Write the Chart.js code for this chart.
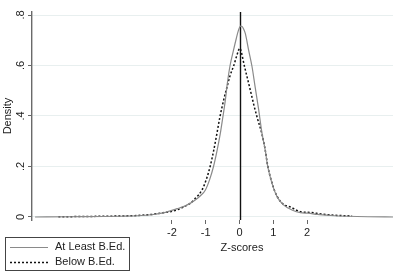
<!DOCTYPE html>
<html>
<head>
<meta charset="utf-8">
<script src="https://cdn.jsdelivr.net/npm/chart.js@4"></script>
<style>
html,body{margin:0;padding:0;background:#fff;}
#wrap{width:400px;height:275px;position:relative;}
</style>
</head>
<body>
<div id="wrap"><canvas id="c" width="400" height="275"></canvas></div>
<script>
// ---- data ----
const seriesNames = ["At Least B.Ed.", "Below B.Ed."];
const atLeastX = [-6.05,-5.0,-4.0,-3.5,-3.0,-2.6,-2.3,-2.05,-1.85,-1.66,-1.45,-1.31,-1.15,-1.01,-0.88,-0.77,-0.67,-0.57,-0.5,-0.42,-0.36,-0.28,-0.18,-0.1,-0.03,0.03,0.08,0.12,0.17,0.27,0.37,0.46,0.56,0.66,0.76,0.83,0.96,1.11,1.3,1.55,1.8,2.03,2.3,2.7,3.2,3.8,4.54];
const atLeastY = [0.000,0.001,0.002,0.003,0.005,0.009,0.015,0.024,0.033,0.041,0.055,0.067,0.085,0.107,0.15,0.2,0.26,0.33,0.39,0.463,0.53,0.60,0.66,0.705,0.74,0.756,0.754,0.745,0.727,0.66,0.595,0.516,0.43,0.335,0.265,0.203,0.133,0.08,0.048,0.028,0.017,0.015,0.01,0.006,0.003,0.001,0.000];
const belowX = [-5.36,-4.5,-4.0,-3.5,-3.0,-2.6,-2.4,-2.2,-2.05,-1.85,-1.65,-1.46,-1.3,-1.11,-0.98,-0.87,-0.77,-0.67,-0.59,-0.47,-0.38,-0.28,-0.17,-0.08,-0.03,0.0,0.03,0.14,0.25,0.35,0.43,0.53,0.66,0.76,0.83,0.96,1.11,1.3,1.5,1.8,2.1,2.4,2.8,3.33];
const belowY = [0.001,0.002,0.003,0.004,0.006,0.01,0.014,0.018,0.021,0.028,0.04,0.054,0.075,0.107,0.15,0.2,0.26,0.33,0.39,0.463,0.51,0.56,0.60,0.64,0.66,0.668,0.664,0.60,0.54,0.485,0.44,0.39,0.33,0.265,0.205,0.135,0.082,0.05,0.04,0.021,0.018,0.012,0.007,0.004];
const xTicks = [-2,-1,0,1,2];
const xTickLabels = ["-2","-1","0","1","2"];
const yTicks = [0,0.2,0.4,0.6,0.8];
const yTickLabels = ["0",".2",".4",".6",".8"];
const xTitle = "Z-scores";
const yTitle = "Density";
const refLineX = 0;

const FONT = "'Liberation Sans', Arial, sans-serif";
const toPts = (xs, ys) => xs.map((x, i) => ({x: x, y: ys[i]}));

const decor = {
  id: 'decor',
  beforeDatasetsDraw(chart) {
    const ctx = chart.ctx, a = chart.chartArea;
    const xs = chart.scales.x;
    const px = Math.round(xs.getPixelForValue(refLineX)) + 0.5;
    ctx.save();
    ctx.strokeStyle = '#111';
    ctx.lineWidth = 1.4;
    ctx.beginPath();
    ctx.moveTo(px, a.top);
    ctx.lineTo(px, a.bottom);
    ctx.stroke();
    ctx.restore();
  },
  afterDraw(chart) {
    const ctx = chart.ctx, a = chart.chartArea;
    const ys = chart.scales.y;
    ctx.save();
    ctx.fillStyle = '#222';
    ctx.font = '11px ' + FONT;
    ctx.textAlign = 'center';
    ctx.textBaseline = 'middle';
    // rotated y tick labels
    yTicks.forEach((v, i) => {
      const py = ys.getPixelForValue(v);
      ctx.save();
      ctx.translate(21, py);
      ctx.rotate(-Math.PI / 2);
      ctx.fillText(yTickLabels[i], 0, 0);
      ctx.restore();
    });
    // y title
    ctx.save();
    ctx.translate(8, (a.top + a.bottom) / 2);
    ctx.rotate(-Math.PI / 2);
    ctx.fillText(yTitle, 0, 0);
    ctx.restore();
    // x title
    ctx.fillText(xTitle, 242, 248);
    // legend
    ctx.strokeStyle = '#444';
    ctx.lineWidth = 1;
    ctx.strokeRect(5.5, 237.5, 124, 33);
    const ds = chart.data.datasets;
    const rows = [247, 262];
    ds.forEach((d, i) => {
      const y = rows[i] + 0.5;
      ctx.save();
      ctx.strokeStyle = d.borderColor;
      ctx.lineWidth = d.borderWidth;
      ctx.setLineDash(d.borderDash || []);
      ctx.beginPath();
      ctx.moveTo(10, y);
      ctx.lineTo(48, y);
      ctx.stroke();
      ctx.restore();
      ctx.textAlign = 'left';
      ctx.fillStyle = '#222';
      ctx.fillText(d.label, 55, rows[i]);
    });
    ctx.restore();
  }
};

new Chart(document.getElementById('c'), {
  type: 'line',
  data: {
    datasets: [
      {label: seriesNames[0], data: toPts(atLeastX, atLeastY), borderColor: '#8a8a8a', borderWidth: 1.2, pointRadius: 0, fill: false, cubicInterpolationMode: 'monotone'},
      {label: seriesNames[1], data: toPts(belowX, belowY), borderColor: '#111', borderWidth: 1.5, borderDash: [2, 2], pointRadius: 0, fill: false, cubicInterpolationMode: 'monotone'}
    ]
  },
  options: {
    responsive: false,
    animation: false,
    devicePixelRatio: 1,
    layout: {padding: {top: 12, right: 7, left: 0, bottom: 0}},
    plugins: {legend: {display: false}, tooltip: {enabled: false}},
    scales: {
      x: {
        type: 'linear',
        min: -6.14, max: 4.54,
        afterBuildTicks: s => { s.ticks = xTicks.map(v => ({value: v})); },
        afterFit: s => { s.height = 55; },
        grid: {drawOnChartArea: false, drawTicks: true, tickLength: 4, tickColor: '#666', tickWidth: 1},
        border: {display: false},
        ticks: {font: {size: 11, family: FONT}, color: '#222', padding: 2, maxRotation: 0,
                callback: (v) => { const i = xTicks.indexOf(v); return i >= 0 ? xTickLabels[i] : ''; }}
      },
      y: {
        type: 'linear',
        min: -0.0119, max: 0.8119,
        afterBuildTicks: s => { s.ticks = yTicks.map(v => ({value: v})); },
        afterFit: s => { s.width = 32; },
        grid: {color: '#e8efef', lineWidth: 1, drawTicks: true, tickLength: 4, tickColor: '#666'},
        border: {display: true, color: '#6a6a6a', width: 1.4},
        ticks: {display: false}
      }
    }
  },
  plugins: [decor]
});
</script>
</body>
</html>
